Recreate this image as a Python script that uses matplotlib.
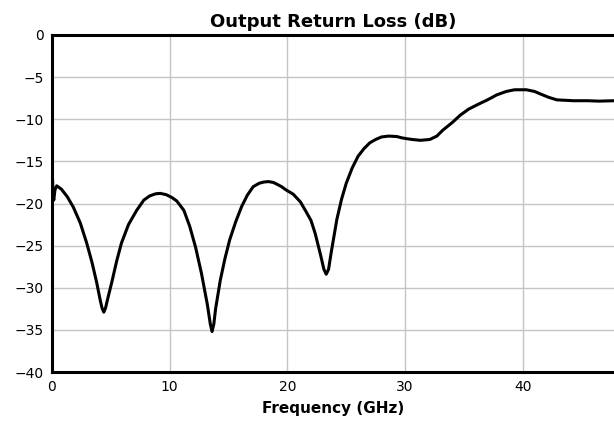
import matplotlib
matplotlib.use("Agg")
import matplotlib.pyplot as plt

# values
freq_ghz = [0, 0.1, 0.15, 0.25, 0.4, 0.8, 1.3, 1.8, 2.4, 2.95, 3.4, 3.8, 4.1, 4.25,
            4.4, 4.55, 4.7, 5.07, 5.5, 5.9, 6.5, 7.2, 7.8, 8.3, 8.8, 9.2, 9.7, 10.2,
            10.6, 11.2, 11.7, 12.2, 12.7, 13.2, 13.45, 13.6, 13.75, 13.9, 14.3, 14.7,
            15.1, 15.6, 16.1, 16.6, 17.1, 17.6, 18.0, 18.4, 18.8, 19.1, 19.5, 19.9,
            20.5, 21.1, 21.6, 22.0, 22.35, 22.8, 23.1, 23.3, 23.5, 23.7, 24.2, 24.6,
            25.0, 25.5, 26.0, 26.5, 27.0, 27.5, 28.0, 28.6, 29.3, 29.7, 30.1, 30.6,
            31.3, 32.1, 32.7, 33.2, 34.0, 34.7, 35.4, 36.1, 37.0, 37.8, 38.6, 39.3,
            40.3, 41.0, 41.5, 42.2, 42.9, 44.3, 45.5, 46.5, 47.8]
return_loss_db = [-15.5, -19.0, -19.6, -18.4, -17.9, -18.3, -19.2, -20.4, -22.3, -24.7,
                  -27.0, -29.4, -31.5, -32.4, -32.9, -32.4, -31.5, -29.4, -26.8, -24.7,
                  -22.5, -20.8, -19.6, -19.1, -18.85, -18.8, -18.95, -19.3, -19.7, -20.8,
                  -22.7, -25.2, -28.3, -32.0, -34.3, -35.2, -34.3, -32.5, -29.1, -26.5,
                  -24.3, -22.2, -20.4, -19.0, -18.0, -17.6, -17.45, -17.4, -17.5, -17.7,
                  -18.0, -18.4, -18.9, -19.8, -21.0, -22.0, -23.5, -26.0, -27.8, -28.4,
                  -27.8, -26.0, -21.9, -19.5, -17.6, -15.8, -14.4, -13.5, -12.8, -12.4,
                  -12.1, -12.0, -12.05, -12.2, -12.3, -12.4, -12.5, -12.4, -12.0, -11.3,
                  -10.4, -9.5, -8.8, -8.3, -7.7, -7.1, -6.7, -6.5, -6.5, -6.7, -7.0,
                  -7.4, -7.7, -7.8, -7.8, -7.85, -7.8]

x_ticks = [0, 10, 20, 30, 40]
y_ticks = [0, -5, -10, -15, -20, -25, -30, -35, -40]

fig = plt.figure(figsize=(6.14, 4.22), dpi=100)
ax = fig.add_axes([52 / 614, 50 / 422, 1 - 52 / 614, 337 / 422])

ax.plot(freq_ghz, return_loss_db, color="black", linewidth=2.2,
        solid_joinstyle="round", zorder=3)

ax.set_xlim(0, 47.75)
ax.set_ylim(-40, 0)
ax.set_xticks(x_ticks)
ax.set_yticks(y_ticks)
ax.tick_params(length=0, labelsize=10, pad=6)
ax.grid(True, color="#c4c4c4", linewidth=1)

for side in ["left", "top", "bottom"]:
    ax.spines[side].set_linewidth(2.2)
ax.spines["right"].set_visible(False)

ax.set_title("Output Return Loss (dB)", fontsize=13, fontweight="bold", pad=6)
ax.set_xlabel("Frequency (GHz)", fontsize=11, fontweight="bold", labelpad=5)

fig.savefig("out.png", dpi=100)
